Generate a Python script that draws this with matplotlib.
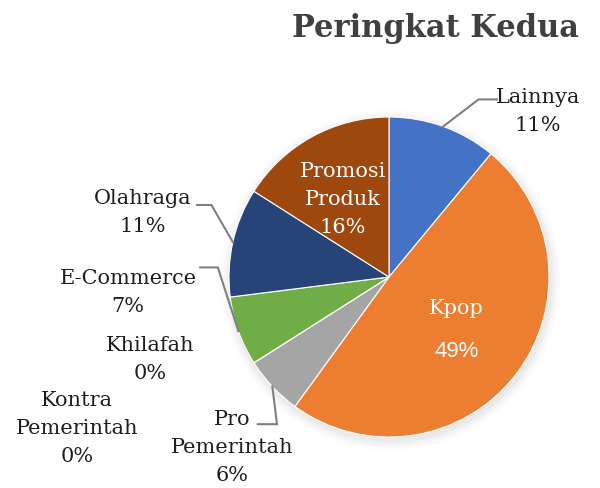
import numpy as np
import matplotlib.pyplot as plt

labels = ["Lainnya", "Kpop", "Pro\nPemerintah", "Kontra\nPemerintah", "Khilafah",
          "E-Commerce", "Olahraga", "Promosi\nProduk"]
values = [11, 49, 6, 0, 0, 7, 11, 16]
colors = ["#4472C4", "#ED7D31", "#A5A5A5", "#FFC000", "#5B9BD5",
          "#70AD47", "#264478", "#9E480E"]

# label centres (pie radius = 1)
label_pos = [(0.93, 1.04), (0.42, -0.31), (-0.98, -1.06), (-1.95, -0.94),
             (-1.49, -0.51), (-1.63, -0.09), (-1.54, 0.41), (-0.29, 0.49)]
inside = [False, True, False, False, False, False, False, True]
# leader lines: elbow and end point, None = no line
leaders = [((0.56, 1.11), (0.675, 1.11)), None, ((-0.7, -0.92), (-0.82, -0.92)),
           None, None, ((-1.07, 0.06), (-1.18, 0.06)), ((-1.11, 0.45), (-1.2, 0.45)), None]

serif = "DejaVu Serif"
fig = plt.figure(figsize=(6, 4.89), dpi=100)
ax = fig.add_axes([0, 0, 1, 1])

# soft shadow
for i, a in enumerate(np.linspace(0.05, 0.01, 6)):
    ax.add_patch(plt.Circle((0.01, -0.02), 1.0 + 0.012 * (i + 1), color="black",
                            alpha=a * 0.5, lw=0, zorder=0))

wedges, _ = ax.pie(values, colors=colors, startangle=90, counterclock=False,
                   radius=1, center=(0, 0), frame=True,
                   wedgeprops=dict(edgecolor="white", linewidth=0.8))
ax.set_xlim(-389 / 160, 211 / 160)
ax.set_ylim(-211 / 160, 278 / 160)
ax.set_aspect("equal")
ax.axis("off")

for i, w in enumerate(wedges):
    x, y = label_pos[i]
    if inside[i]:
        if labels[i] == "Kpop":
            ax.text(x, y + 0.12, "Kpop", ha="center", va="center", color="white",
                    fontsize=15, family=serif)
            ax.text(x, y - 0.15, f"{values[i]}%", ha="center", va="center",
                    color="white", fontsize=16, family="Liberation Sans")
        else:
            ax.text(x, y, f"{labels[i]}\n{values[i]}%", ha="center", va="center",
                    color="white", fontsize=15, family=serif, linespacing=1.6)
    else:
        ax.text(x, y, f"{labels[i]}\n{values[i]}%", ha="center", va="center",
                color="#1F1F1F", fontsize=15, family=serif, linespacing=1.6)
    if leaders[i] is not None:
        ang = np.deg2rad((w.theta1 + w.theta2) / 2)
        p0 = (np.cos(ang), np.sin(ang))
        (ex, ey), (fx, fy) = leaders[i]
        ax.plot([p0[0], ex, fx], [p0[1], ey, fy], color="#7F7F7F", lw=1.5,
                solid_joinstyle="miter", zorder=3)

ax.text(0.29, 1.56, "Peringkat Kedua", ha="center", va="center", color="#404040",
        fontsize=22, fontweight="bold", family=serif)

fig.savefig("out.png", dpi=100)
